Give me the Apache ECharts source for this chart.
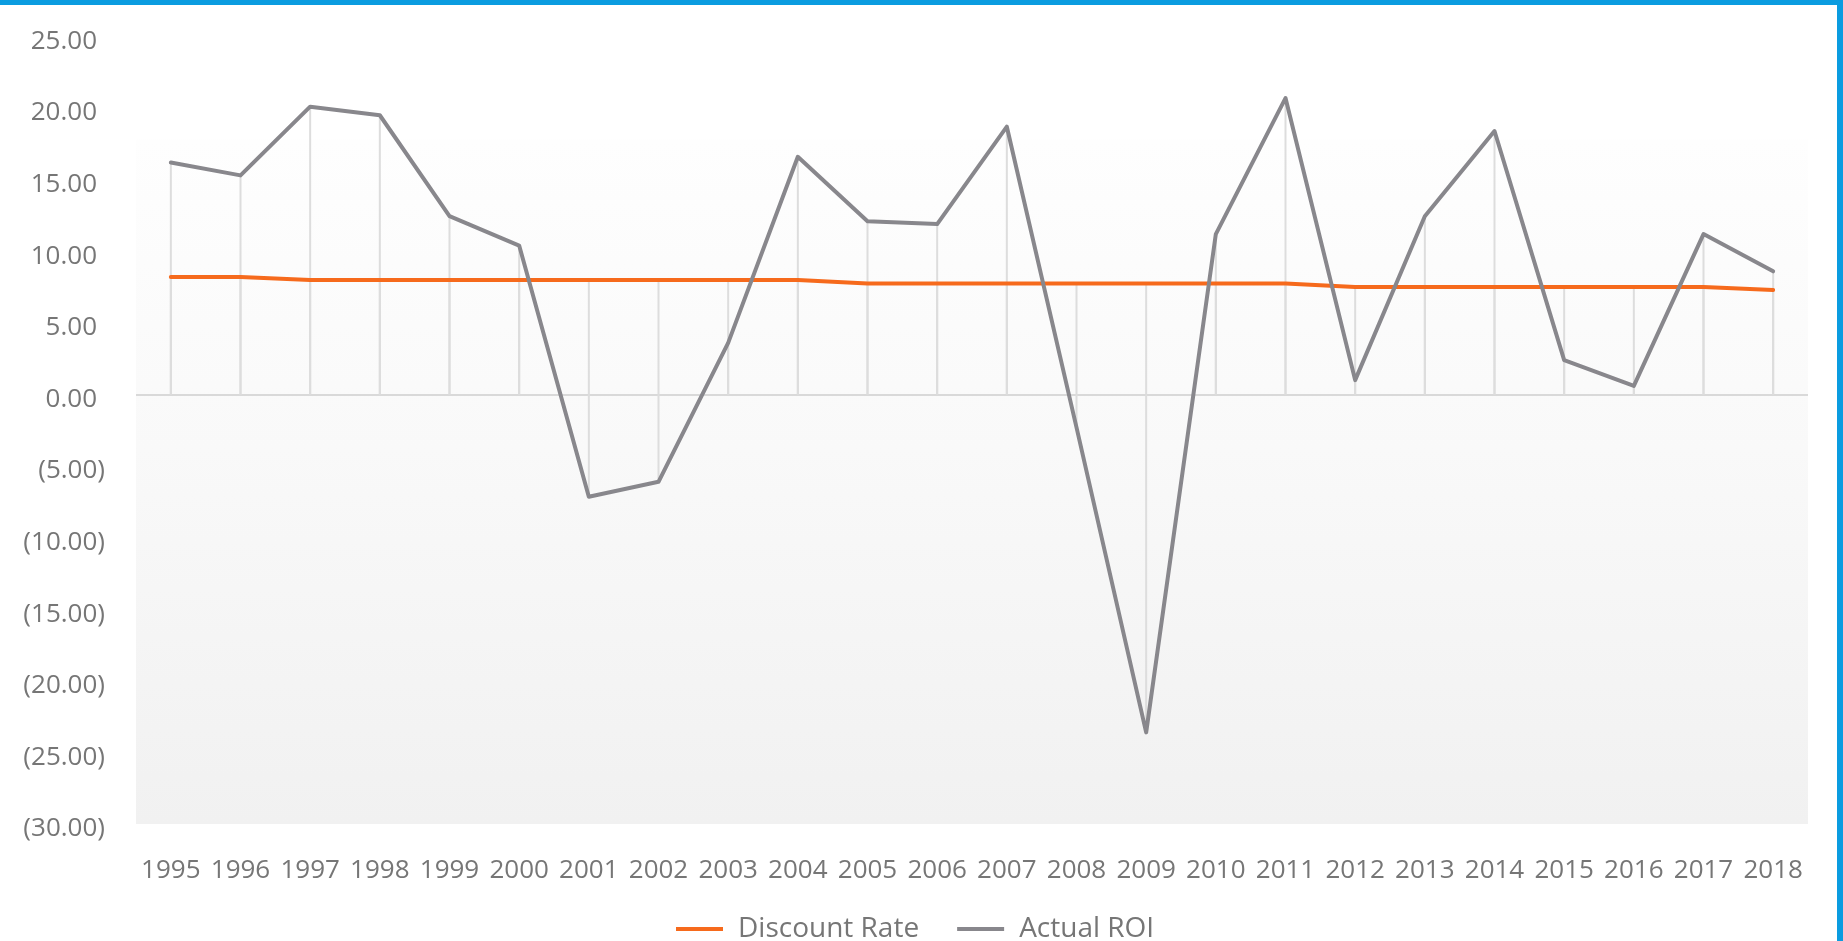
<!DOCTYPE html>
<html>
<head>
<meta charset="utf-8">
<title>Discount Rate vs Actual ROI</title>
<script src="https://cdn.jsdelivr.net/npm/echarts@6/dist/echarts.min.js"></script>
<style>
  html, body { margin: 0; padding: 0; background: #ffffff; }
  #wrap { position: relative; width: 1843px; height: 941px; overflow: hidden; }
  #chart { position: absolute; left: 0; top: 0; width: 1843px; height: 941px; }
  .edge-top { position: absolute; left: 0; top: 0; width: 1843px; height: 5px; background: #0b9ce0; }
  .edge-right { position: absolute; right: 0; top: 0; width: 6px; height: 941px; background: #0b9ce0; }
</style>
</head>
<body>
<div id="wrap">
  <div id="chart"></div>
  <div class="edge-top"></div>
  <div class="edge-right"></div>
</div>
<script>
// Years on the category axis
const years = ['1995','1996','1997','1998','1999','2000','2001','2002','2003','2004','2005','2006',
               '2007','2008','2009','2010','2011','2012','2013','2014','2015','2016','2017','2018'];

// Discount rate (%) per year
const discountRate = [8.2, 8.2, 8.0, 8.0, 8.0, 8.0, 8.0, 8.0, 8.0, 8.0, 7.75, 7.75,
                      7.75, 7.75, 7.75, 7.75, 7.75, 7.5, 7.5, 7.5, 7.5, 7.5, 7.5, 7.3];

// Actual return on investment (%) per year
const actualROI = [16.2, 15.3, 20.1, 19.5, 12.45, 10.4, -7.15, -6.1, 3.6, 16.6, 12.1, 11.9,
                   18.7, -2.3, -23.6, 11.2, 20.7, 1.0, 12.45, 18.4, 2.4, 0.6, 11.2, 8.6];

// Value axis range
const yMin = -30;
const yMax = 25;
const yStep = 5;

const FONT = '"Open Sans", Lato, sans-serif';
const TEXT = '#767676';
const ORANGE = '#f66a1c';
const GREY = '#88878c';
const DROP = '#dddddd';

function accounting(v) {
  const s = Math.abs(v).toFixed(2);
  return v < 0 ? '{n|(' + s + ')}' : '{p|' + s + '}';
}

// thin vertical drop line from a value down/up to zero
function dropSeries(name, data) {
  return {
    name: name,
    type: 'bar',
    data: data,
    barWidth: 2,
    barGap: '-100%',
    silent: true,
    z: 1,
    itemStyle: { color: DROP },
    emphasis: { disabled: true }
  };
}

const chart = echarts.init(document.getElementById('chart'), null, { renderer: 'canvas' });

chart.setOption({
  animation: false,
  backgroundColor: 'transparent',
  grid: { left: 136, right: 35, top: 36.5, bottom: 117, containLabel: false },
  legend: {
    data: ['Discount Rate', 'Actual ROI'],
    left: 671,
    top: 910,
    icon: 'rect',
    itemWidth: 47,
    itemHeight: 4,
    itemGap: 38,
    textStyle: { fontFamily: FONT, fontSize: 28, color: TEXT, padding: [0, 0, 0, 10] }
  },
  xAxis: {
    type: 'category',
    data: years,
    boundaryGap: true,
    axisLine: { show: false, onZero: false },
    axisTick: { show: false },
    splitLine: { show: false },
    axisLabel: { margin: 34, fontFamily: FONT, fontSize: 26, color: TEXT, interval: 0 }
  },
  yAxis: {
    type: 'value',
    min: yMin,
    max: yMax,
    interval: yStep,
    axisLine: { show: false },
    axisTick: { show: false },
    splitLine: { show: false },
    axisLabel: {
      margin: 31,
      formatter: accounting,
      rich: {
        p: { fontFamily: FONT, fontSize: 26, color: TEXT, padding: [10, 8, 0, 0] },
        n: { fontFamily: FONT, fontSize: 26, color: TEXT, padding: [10, 0, 0, 0] }
      }
    }
  },
  series: [
    Object.assign(dropSeries('dropRate', discountRate), {
      markArea: {
        silent: true,
        z: 0,
        itemStyle: {
          color: {
            type: 'linear', x: 0, y: 0, x2: 0, y2: 1,
            colorStops: [
              { offset: 0, color: '#fefefe' },
              { offset: 0.45, color: '#f9f9f9' },
              { offset: 1, color: '#f1f1f1' }
            ]
          }
        },
        data: [[{ yAxis: yMin }, { yAxis: 17.8 }]]
      }
    }),
    Object.assign(dropSeries('dropROI', actualROI), {
      markLine: {
        silent: true,
        z: 1,
        symbol: 'none',
        label: { show: false },
        lineStyle: { color: '#d9d9d9', width: 2, type: 'solid' },
        data: [{ yAxis: 0 }]
      }
    }),
    {
      name: 'Discount Rate',
      type: 'line',
      data: discountRate,
      showSymbol: false,
      z: 3,
      lineStyle: { color: ORANGE, width: 4, cap: 'round', join: 'round' },
      itemStyle: { color: ORANGE }
    },
    {
      name: 'Actual ROI',
      type: 'line',
      data: actualROI,
      showSymbol: false,
      z: 4,
      lineStyle: { color: GREY, width: 4, cap: 'round', join: 'round' },
      itemStyle: { color: GREY }
    }
  ]
});
</script>
</body>
</html>
